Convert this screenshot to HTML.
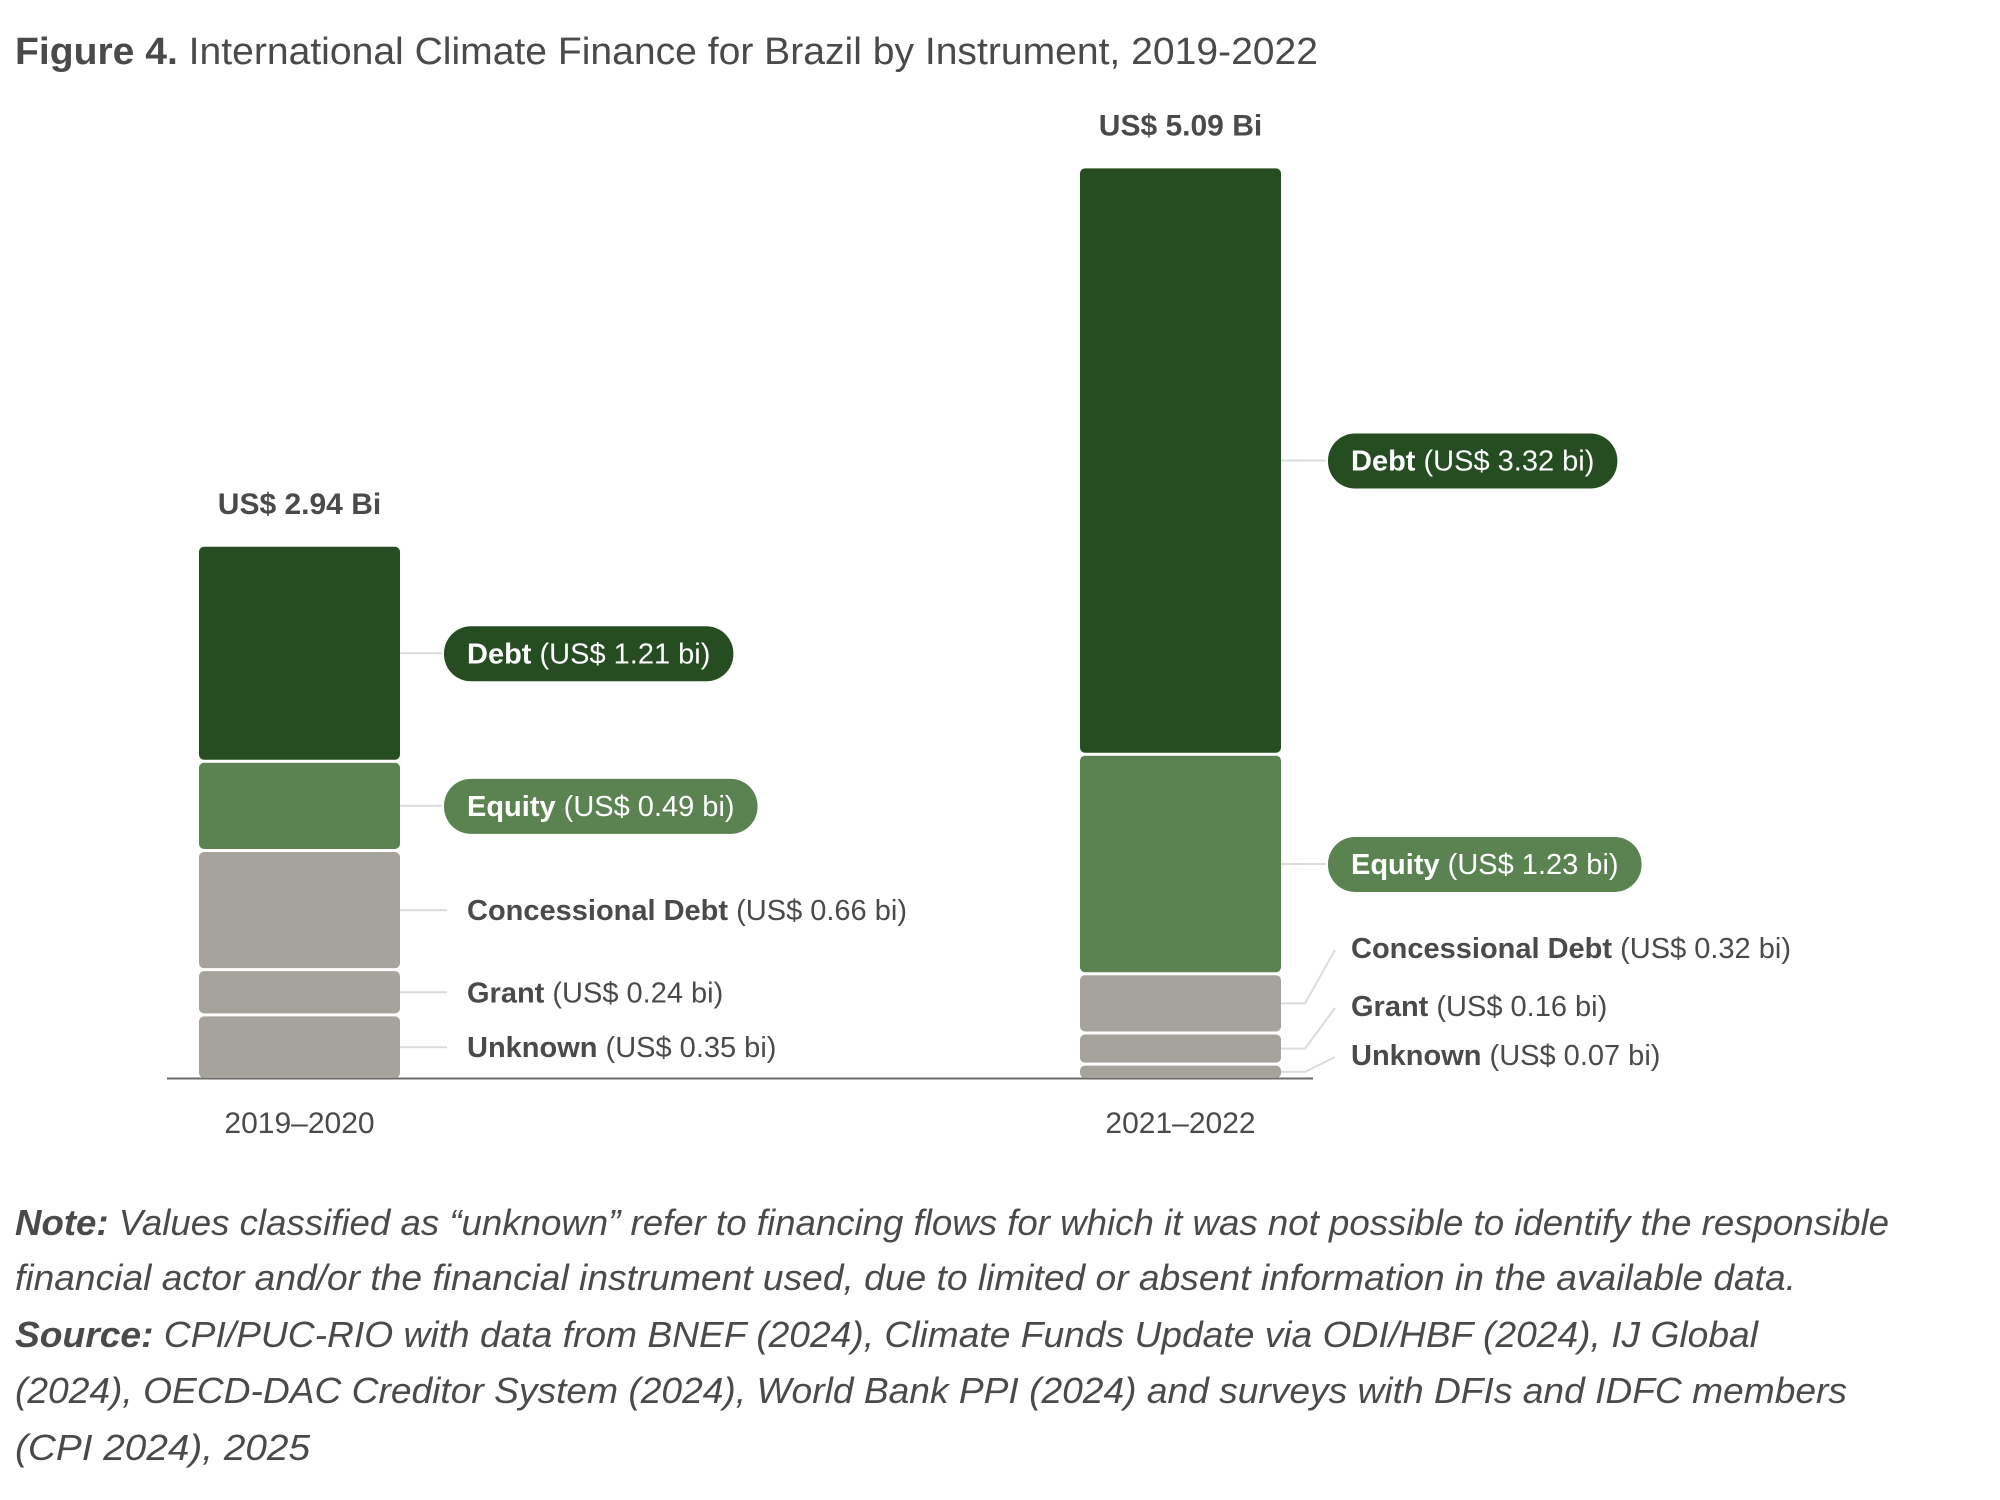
<!DOCTYPE html>
<html><head><meta charset="utf-8"><style>
html,body{margin:0;padding:0;background:#fff;}
svg{display:block;font-family:"Liberation Sans",sans-serif;}
</style></head><body>
<svg id="chart" width="2000" height="1500" viewBox="0 0 2000 1500" xmlns="http://www.w3.org/2000/svg">
<text x="15" y="64" font-size="38" fill="#4a4a4a" textLength="1303" lengthAdjust="spacingAndGlyphs"><tspan font-weight="bold">Figure 4.</tspan> International Climate Finance for Brazil by Instrument, 2019-2022</text>
<g id="bars"></g>
<g id="notes" font-style="italic" font-size="36" fill="#4a4a4a">
<text x="15" y="1235" textLength="1874" lengthAdjust="spacingAndGlyphs"><tspan font-weight="bold">Note:</tspan> Values classified as “unknown” refer to financing flows for which it was not possible to identify the responsible</text>
<text x="15" y="1290" textLength="1781" lengthAdjust="spacingAndGlyphs">financial actor and/or the financial instrument used, due to limited or absent information in the available data.</text>
<text x="15" y="1347" textLength="1743" lengthAdjust="spacingAndGlyphs"><tspan font-weight="bold">Source:</tspan> CPI/PUC-RIO with data from BNEF (2024), Climate Funds Update via ODI/HBF (2024), IJ Global</text>
<text x="15" y="1403" textLength="1832" lengthAdjust="spacingAndGlyphs">(2024), OECD-DAC Creditor System (2024), World Bank PPI (2024) and surveys with DFIs and IDFC members</text>
<text x="15" y="1460" textLength="295" lengthAdjust="spacingAndGlyphs">(CPI 2024), 2025</text>
</g>
</svg>
<script>
const categories = ["2019–2020", "2021–2022"];
const seriesNames = ["Unknown", "Grant", "Concessional Debt", "Equity", "Debt"];
const unknownVals = [0.35, 0.07];
const grantVals = [0.24, 0.16];
const concessionalVals = [0.66, 0.32];
const equityVals = [0.49, 1.23];
const debtVals = [1.21, 3.32];
const totalLabels = ["US$ 2.94 Bi", "US$ 5.09 Bi"];

const NS = "http://www.w3.org/2000/svg";
const g = document.getElementById("bars");
const baseY = 1078, pxPerBi = 176, gap = 3;
const barX = [199, 1080], barW = 201;
const colors = ["#a6a39d", "#a6a39d", "#a6a39d", "#5b8352", "#264d22"];
const series = [unknownVals, grantVals, concessionalVals, equityVals, debtVals];
function yLen(v){ return v * pxPerBi; }
function mk(tag, attrs){ const e = document.createElementNS(NS, tag); for (const k in attrs) e.setAttribute(k, attrs[k]); g.appendChild(e); return e; }

// axis
const ax = mk("line", {x1:167, x2:1313, y1:baseY+0.5, y2:baseY+0.5, stroke:"#6b6b6b", "stroke-width":2});



categories.forEach((cat, i) => {
  let y = baseY;
  const cx = barX[i] + barW/2;
  const rightX = barX[i] + barW;
  const grayFixed = [1055, 1006, 948]; // label rows for small segments in second bar
  series.forEach((vals, s) => {
    const h = yLen(vals[i]);
    const top = y - h;
    const r = mk("rect", {x:barX[i], y:top, width:barW, height:Math.max(h,1), rx:5, fill:colors[s]});
    
    
    const mid = top + h/2;
    const valTxt = " (US$ " + vals[i].toFixed(2) + " bi)";
    const textX = i === 0 ? 467 : 1351;
    if (s >= 3) {
      const ln = mk("line", {x1:rightX, x2:textX-25, y1:mid, y2:mid, stroke:"#dcdcdc", "stroke-width":2});
      
      
      const pill = mk("rect", {x:textX-23, y:mid-27, width:10, height:55, rx:27, fill:colors[s]});
      
      
      const t = mk("text", {x:textX, y:mid+10, "font-size":29, fill:"#fff"});
      
      
      const b = document.createElementNS(NS, "tspan"); b.setAttribute("font-weight","bold"); b.textContent = seriesNames[s]; t.appendChild(b);
      const n = document.createElementNS(NS, "tspan"); n.textContent = valTxt; t.appendChild(n);
      pill.setAttribute("width", t.getComputedTextLength() + 46);
    } else {
      let ly;
      if (i === 0) {
        ly = mid;
        const ln = mk("line", {x1:rightX, x2:textX-20, y1:mid, y2:mid, stroke:"#dcdcdc", "stroke-width":2});
        
        
      } else {
        ly = grayFixed[s];
        const ln = mk("polyline", {points: rightX+","+mid+" "+(rightX+24)+","+mid+" "+(textX-16)+","+(ly+2), fill:"none", stroke:"#dcdcdc", "stroke-width":2});
        
        
      }
      const t = mk("text", {x:textX, y:ly+10, "font-size":29, fill:"#4a4a4a"});
      
      
      const b = document.createElementNS(NS, "tspan"); b.setAttribute("font-weight","bold"); b.textContent = seriesNames[s]; t.appendChild(b);
      const n = document.createElementNS(NS, "tspan"); n.textContent = valTxt; t.appendChild(n);
    }
    y = top - gap;
  });
  const tot = mk("text", {x:cx, y:y - 30, "font-size":30, "font-weight":"bold", fill:"#4a4a4a", "text-anchor":"middle"});
  tot.textContent = totalLabels[i];
  
  
  const cl = mk("text", {x:cx, y:1133, "font-size":30, fill:"#4a4a4a", "text-anchor":"middle"});
  cl.textContent = cat;
  
  
});
</script>
</body></html>
